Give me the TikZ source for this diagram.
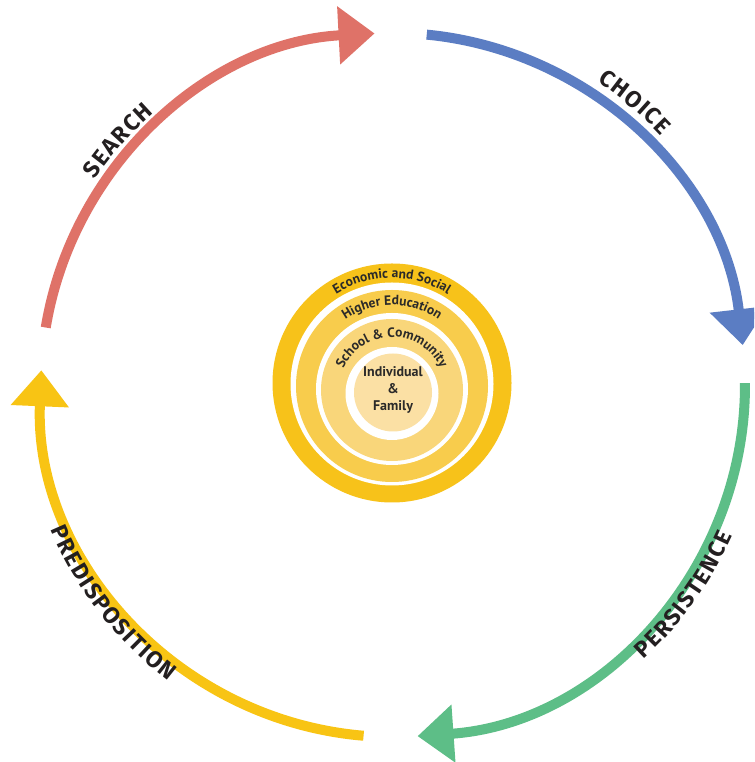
\documentclass[tikz,border=0pt]{standalone}
\usepackage{fontspec}
\setmainfont{Fira Sans}
\newfontfamily\labelfont{Fira Sans}
\newfontfamily\ringfont{PT Sans}
\usetikzlibrary{arrows.meta,decorations.text}
\definecolor{sred}{HTML}{DF7268}
\definecolor{sblue}{HTML}{5B7DC3}
\definecolor{sgreen}{HTML}{5DBE87}
\definecolor{syel}{HTML}{F8C414}
\definecolor{ringA}{HTML}{F7C21A}
\definecolor{ringB}{HTML}{F8CC4C}
\definecolor{ringC}{HTML}{F9D67A}
\definecolor{ringD}{HTML}{FBE0A4}
\definecolor{txt}{HTML}{231F20}
\definecolor{ringtxt}{HTML}{2B2A29}
\begin{document}
\begin{tikzpicture}[x=1pt,y=1pt,
  arcarrow/.style={line width=10pt,-{Triangle[length=36pt,width=56pt]}},
  phaselabel/.style={decorate,decoration={text along path,text align=center,text color=txt,
     text={|\labelfont\bfseries\fontsize{23}{23}\selectfont\kern1.5pt|#1}}},
  ringlabel/.style={decorate,decoration={text along path,text align=center,text color=ringtxt,
     text={|\ringfont\bfseries\fontsize{13.5}{13.5}\selectfont|#1}}},
  coretext/.style={font=\ringfont\bfseries\fontsize{14}{17}\selectfont,text=ringtxt,align=center,inner sep=0pt}
]
\useasboundingbox (0,0) rectangle (754,762);
\fill[white] (0,0) rectangle (754,762);
\clip (0,0) rectangle (754,762);
\coordinate (C) at (393,377);

% nested rings
\fill[ringA] (392,379) circle[radius=119.5];
\fill[white] (392,378) circle[radius=101.5];
\fill[ringB] (392,376) circle[radius=96];
\fill[white] (392,373) circle[radius=76];
\fill[ringC] (392,372) circle[radius=71];
\fill[white] (392,368.5) circle[radius=46.5];
\fill[ringD] (393,369.5) circle[radius=39];

\path[ringlabel={Economic and Social}] (392,379) ++(160:105) arc[start angle=160,end angle=20,radius=105];
\path[ringlabel={Higher Education}] (392,376) ++(160:81) arc[start angle=160,end angle=20,radius=81];
\path[ringlabel={School {\&} Community}] (392,372) ++(200:53) arc[start angle=200,end angle=-20,radius=53];
\node[coretext] (core) at (393,372) {Individual\\\&\\Family};

% cycle arrows
\draw[arcarrow,sred]   (C) ++(170.6:352) arc[start angle=170.6,end angle=93,radius=352];
\draw[arcarrow,sblue]  (C) ++(84.5:352)  arc[start angle=84.5,end angle=6.5,radius=352];
\draw[arcarrow,sgreen] (C) ++(0.3:352)   arc[start angle=0.3,end angle=-86,radius=352];
\draw[arcarrow,syel]   (C) ++(-94.8:352) arc[start angle=-94.8,end angle=-182.4,radius=352];

% phase labels
\path[phaselabel={SEARCH}] (C) ++(168.5:362) arc[start angle=168.5,end angle=108.5,radius=362];
\path[phaselabel={CHOICE}] (C) ++(79.6:366) arc[start angle=79.6,end angle=19.6,radius=366];
\path[phaselabel={PERSISTENCE}] (C) ++(-75.9:371.5) arc[start angle=-75.9,end angle=4.1,radius=371.5];
\path[phaselabel={PREDISPOSITION}] (C) ++(177.7:371.5) arc[start angle=177.7,end angle=257.7,radius=371.5];
\end{tikzpicture}
\end{document}
